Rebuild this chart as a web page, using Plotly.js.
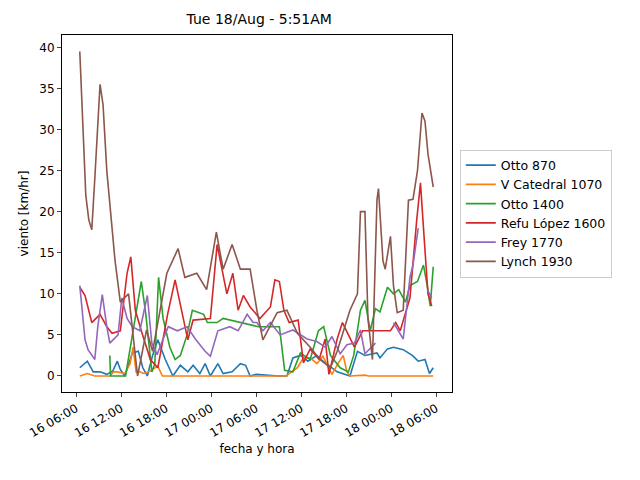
<!DOCTYPE html>
<html><head><meta charset="utf-8">
<script src="https://cdn.plot.ly/plotly-3.0.1.min.js"></script>
<style>body{margin:0}</style></head><body>
<div id="c" style="width:640px;height:480px"></div>
<script>
// hours since 2020-08-16 06:00
const blueH=[0.5,1.5,2.3,3.2,4.1,4.9,5.5,5.9,6.5,7.5,8.3,8.9,9.5,10.2,10.9,11.9,12.9,13.9,14.9,15.6,16.5,17.2,17.9,18.9,19.6,20.8,21.9,22.6,23.2,24,27,28.1,28.9,29.9,30.9,32.1,32.9,34.1,34.8,36.5,37.5,38.5,40.1,40.5,41.5,42.3,43.6,44.8,45.6,46.5,47.1,47.6];
const blueV=[1,1.8,0.5,0.5,0.2,0.6,1.8,0.8,0,2.8,3,1,0,2.5,4.4,2,0,1.3,0.5,1.3,0.3,1.5,0,1.5,0.3,0.5,1.5,1.3,0,0.2,0,0,2.2,2.5,1.8,2.5,1.8,1,0.5,0,3,2.5,2.8,2.2,3.3,3.5,3.2,2.5,1.8,2,0.3,1];
const orangeH=[0.5,1.5,2.5,4.5,5,5.5,6.5,7.2,7.6,8,8.5,9,9.7,10.9,11.5,15,20,25,28,29.5,30.3,31.2,32.1,32.9,34.1,34.9,35.6,36.1,36.5,38.5,39,42,47.6];
const orangeV=[0,0.3,0,0,0.5,0.5,0.3,1.5,3.5,0.5,0.5,0.3,0.5,1.2,0,0,0,0,0,1,2.2,2.2,1.5,2.4,0.2,1.5,2.5,0.5,0,0.1,0,0,0];
const greenH=[4.5,4.6,6.6,8,8.7,9.3,10.1,10.5,11,11.6,12.5,13.2,13.9,14.8,15.5,17,17.5,18.8,19.6,24.3,27.1,27.8,28.9,29.9,31.2,32.3,33,33.9,35.2,36.3,37,37.9,38.5,39.2,39.9,40.5,41.5,42.3,43,43.9,44.5,45.5,46.3,46.8,47.2,47.6];
const greenV=[2.5,0,0,8,11.5,7.5,0.5,1.5,12,7,3.5,2,2.5,5,8,7.5,6.5,6.5,7,6,6,0.7,0.5,2.8,2,5.5,6,2.5,1,0.5,2.5,8,9.2,5.5,8.2,7.8,10.8,10,10.5,9,11,11.5,13.5,11,8.5,13.3];
const refuH=[0.5,1.2,2.1,3.2,4.1,4.8,5.9,6.8,7.3,7.9,8.8,9.9,10.9,12.2,13.2,14.3,14.9,15.6,17.9,18.8,19.5,20.1,20.9,21.6,22.3,23.2,24.5,25.9,26.5,27.1,27.7,28.4,29.6,30.3,31.2,32.4,33.2,33.7,34.8,35.5,37.1,38.2,41.9,42.6,43.2,44.5,45.4,45.9,46.3,46.9,47.4];
const refuV=[10.8,9.8,6.5,7.5,6,5.2,5.5,12.5,14.5,8,5.2,2,1,7.5,11.7,7,4.4,6.8,7,16,12.7,10,12.5,8,9.8,8.4,7,8.4,11.7,11.5,8,6.5,6.8,1.6,3.3,2,4.5,0.2,4.5,6.5,3.5,5.5,5.5,6.5,5.5,9.5,19,23.5,18,10,8.5];
const freyH=[0.5,1.2,1.6,2.5,2.9,3.5,4.1,4.5,5.6,6.1,6.8,7.5,8.5,9.5,10.1,10.8,11.6,12.3,13.5,14.8,15.9,17.2,17.9,18.9,20.5,21.6,22.8,23.2,23.6,24.1,24.9,25.9,27.2,28.9,30.8,32.1,33.2,34.1,35.2,36.1,37.1,37.9,38.5,39.9,null,42.3,43.6,44.5,44.9,45.6,null,46.8,47.4];
const freyV=[11,4.4,3.2,2,6,9.9,6,4,5,9.5,7,6,5.5,9.8,4,2.6,4.5,6,5.5,6,4.5,3,2.4,5.5,6,5.5,7.5,7,6.5,6.5,5.5,6.5,5,5.6,4.5,4.2,3.5,4.8,2.7,3.8,4,5.6,2.7,4,null,6.5,4.5,12,13.5,18,null,10.5,9.5];
const lynchH=[0.5,0.9,1.3,1.7,2.1,2.5,3.2,3.6,4.1,4.6,5.2,5.9,7,8.2,9.4,10.2,12.1,13.6,14.5,16.1,17.4,18.7,19.6,20.8,21.9,22.8,23.2,24.1,24.9,26.8,28.1,29.5,31.2,32.5,33.9,34.8,36.5,37.5,37.9,38.5,38.9,39.5,40.1,40.3,40.9,41.2,41.9,42.3,42.8,43.6,44.3,44.9,45.5,46.1,46.5,46.9,47.6];
const lynchV=[39.5,30,22,19,17.8,24,35.5,33,25,20,14,9,10,0,5.6,3,12.5,15.5,12,12.5,10.5,17.5,13,16,13,13,13,8,4.4,7.7,8,5.2,3.5,2,1,3,8,10,20,20,7,2,21.4,22.8,14,13,17,11,7.7,8,21.4,21.5,25,32,31,27,23];
const names=["Otto 870","V Catedral 1070","Otto 1400","Refu López 1600","Frey 1770","Lynch 1930"];
const colors=["#1f77b4","#ff7f0e","#2ca02c","#d62728","#9467bd","#8c564b"];
const base=Date.UTC(2020,7,16,6,0);
function toD(h){if(h===null)return null;const d=new Date(base+h*3600000);return d.toISOString().slice(0,19).replace('T',' ');}
const series=[[blueH,blueV],[orangeH,orangeV],[greenH,greenV],[refuH,refuV],[freyH,freyV],[lynchH,lynchV]];
const data=series.map((s,i)=>({x:s[0].map(toD),y:s[1],name:names[i],type:'scatter',mode:'lines',line:{color:colors[i],width:1.6},connectgaps:false}));
const tv=[0,6,12,18,24,30,36,42,48].map(toD);
const layout={width:640,height:480,margin:{l:62,r:188,t:35,b:88},
 font:{family:'DejaVu Sans',size:12,color:'#000'},
 title:{text:'Tue 18/Aug - 5:51AM',font:{size:14},x:0.405,y:0.97,yanchor:'top'},
 paper_bgcolor:'#fff',plot_bgcolor:'#fff',
 xaxis:{type:'date',range:[toD(-1.87),toD(50.1)],tickvals:tv,tickformat:'%d %H:%M',tickangle:-30,ticks:'outside',ticklen:4,showgrid:false,zeroline:false,showline:true,mirror:true,linecolor:'#000',title:{text:'fecha y hora',font:{size:12}}},
 yaxis:{range:[-1.95,41.5],tickvals:[0,5,10,15,20,25,30,35,40],ticks:'outside',ticklen:4,showgrid:false,zeroline:false,showline:true,mirror:true,linecolor:'#000',title:{text:'viento [km/hr]',font:{size:12}}},
 legend:{x:1.02,y:0.5,yanchor:'middle',xanchor:'left',bordercolor:'#ccc',borderwidth:1,font:{size:12.5}},
 showlegend:true};
Plotly.newPlot('c',data,layout,{displayModeBar:false,staticPlot:true});
</script></body></html>
